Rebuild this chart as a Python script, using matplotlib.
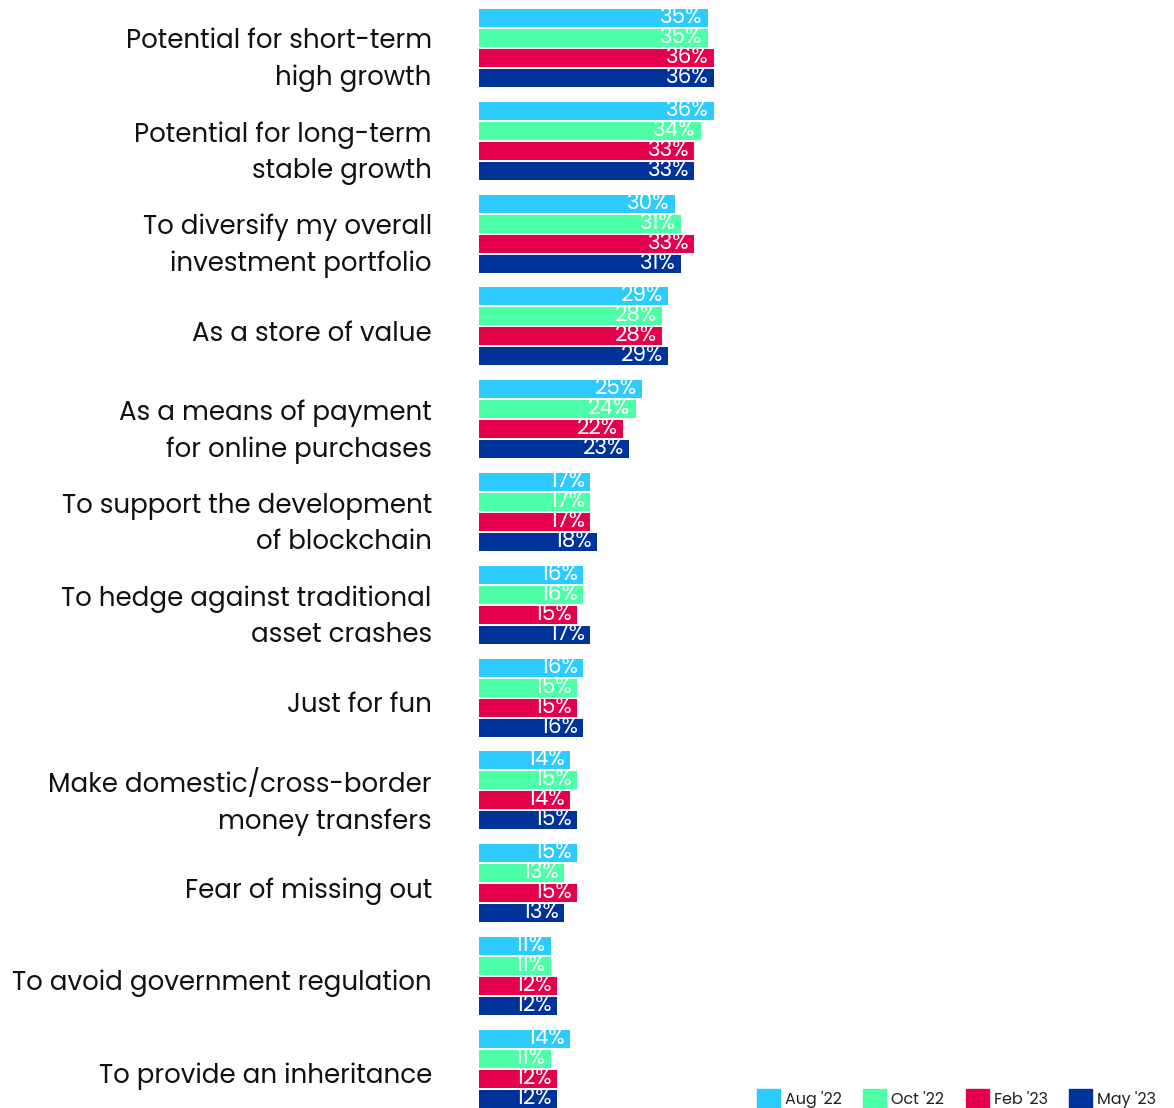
import numpy as np
import matplotlib.pyplot as plt
import matplotlib.patches as mpatches

# data
categories = [
    'Potential for short-term\nhigh growth',
    'Potential for long-term\nstable growth',
    'To diversify my overall\ninvestment portfolio',
    'As a store of value',
    'As a means of payment\nfor online purchases',
    'To support the development\nof blockchain',
    'To hedge against traditional\nasset crashes',
    'Just for fun',
    'Make domestic/cross-border\nmoney transfers',
    'Fear of missing out',
    'To avoid government regulation',
    'To provide an inheritance',
]
series_names = ["Aug '22", "Oct '22", "Feb '23", "May '23"]
aug22 = [35, 36, 30, 29, 25, 17, 16, 16, 14, 15, 11, 14]
oct22 = [35, 34, 31, 28, 24, 17, 16, 15, 15, 13, 11, 11]
feb23 = [36, 33, 33, 28, 22, 17, 15, 15, 14, 15, 12, 12]
may23 = [36, 33, 31, 29, 23, 18, 17, 16, 15, 13, 12, 12]
colors = ['#2ecbff', '#4dffa6', '#e4004b', '#003399']

plt.rcParams['font.family'] = ['Poppins', 'Lato', 'DejaVu Sans']

W, H = 1174, 1108
fig = plt.figure(figsize=(W / 100, H / 100), dpi=100)

# axes from bar start to right edge
left_px, right_px = 479, 1160
ax = fig.add_axes([left_px / W, 0, (right_px - left_px) / W, 1])

px_per_pct = 6.53
ax.set_xlim(0, (right_px - left_px) / px_per_pct)

period = 92.8  # px per category
step = 20 / period
height = 18 / period
ax.set_ylim((H - 48) / period, -48 / period)

all_series = [aug22, oct22, feb23, may23]
y = np.arange(len(categories))
for j, (vals, col) in enumerate(zip(all_series, colors)):
    pos = y + (j - 1.5) * step
    ax.barh(pos, vals, height=height, color=col, edgecolor='none')
    for p, v in zip(pos, vals):
        ax.text(v - 0.8, p, f'{v}%', color='white', ha='right', va='center',
                fontsize=15.5)

# labels sit a few px below the group centre in the original
ax.set_yticks(y + 0.045)
ax.set_yticklabels(categories, fontsize=18.8, ha='right', color='#111111', linespacing=1.45)
ax.tick_params(axis='y', length=0, pad=34)
ax.tick_params(axis='x', bottom=False, labelbottom=False)
for s in ax.spines.values():
    s.set_visible(False)

handles = [mpatches.Patch(color=c, label=n) for c, n in zip(colors, series_names)]
fig.legend(handles=handles, loc='lower right', bbox_to_anchor=(0.997, -0.013), ncol=4,
           frameon=False, fontsize=11.5, handlelength=1.45, handleheight=1.45,
           handletextpad=0.3, columnspacing=1.35, labelcolor='#222222')

fig.savefig('out.png', dpi=100)
